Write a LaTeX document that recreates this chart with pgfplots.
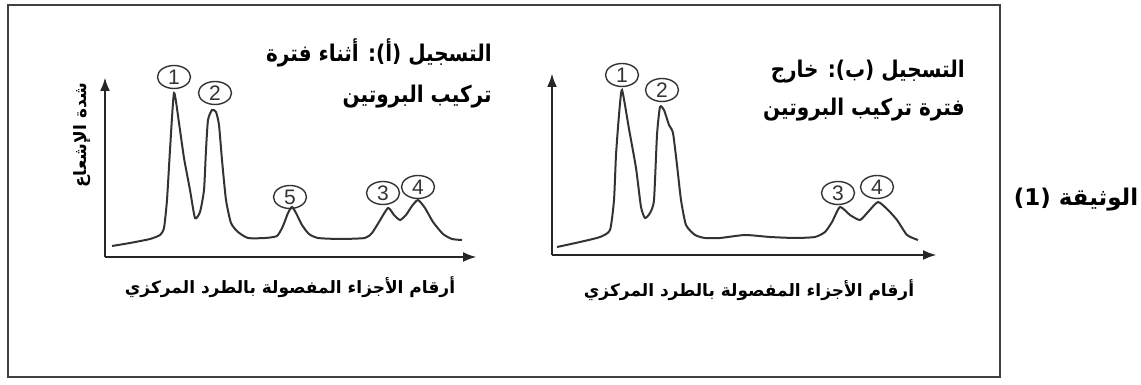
\documentclass[border=0pt]{standalone}
\usepackage{fontspec}
\usepackage{pgfplots}
\pgfplotsset{compat=1.18}
\usetikzlibrary{arrows.meta,shapes.geometric}
\TeXXeTstate=1
\setmainfont{Liberation Sans}
\newfontfamily\arabicfont[Script=Arabic]{DejaVu Sans}
\newcommand{\ar}[1]{{\arabicfont\beginR #1\endR}}

% one px of the 1141x385 reference = 0.5pt
\pgfplotsset{
  doc/.style={
    x=0.5pt, y=0.5pt, scale only axis, anchor=south west,
    axis lines=left, xtick=\empty, ytick=\empty, clip=false,
    axis line style={line width=1.4pt, black!85, -{Latex[length=7pt,width=5pt]}},
  },
  curve/.style={line width=1pt, black!80, smooth, tension=0.35},
}
\tikzset{
  num/.style={draw, ellipse, line width=0.7pt, black!80, minimum width=16.5pt,
    minimum height=11.5pt, inner sep=0pt, font=\fontsize{10.5}{10.5}\selectfont},
  ttl/.style={anchor=east, inner sep=0pt, xscale=0.87,
    font=\fontsize{11.5}{11.5}\selectfont\bfseries},
  xl/.style={font=\fontsize{8.5}{9}\selectfont\bfseries},
}

\begin{document}
\begin{tikzpicture}
\path (0,0) rectangle (570.5pt,192.5pt);
% recording (a)
\begin{axis}[doc, at={(52.5pt,64pt)}, xmin=105, xmax=477, ymin=128, ymax=308]
\addplot[curve] coordinates {
  (112,139) (130,142) (150,146) (160,150) (164,157) (167,185) (170,235)
  (174,292) (179,262) (184,227) (190,195) (195,167) (200,173) (204,195)
  (206,235) (208,265) (212,275) (216,273) (219,260) (222,225) (226,185)
  (231,162) (238,153) (248,147) (265,147) (277,149) (283,159) (288,172)
  (292,178) (296,172) (302,160) (309,151) (318,147) (340,146) (365,147)
  (372,152) (379,163) (388,177) (394,170) (400,165) (406,170) (412,179)
  (418,185) (425,177) (433,163) (443,151) (452,146) (462,145)
};
\node[num] at (axis cs:174,308) {1};
\node[num] at (axis cs:215,292) {2};
\node[num] at (axis cs:290,188) {5};
\node[num] at (axis cs:383,192) {3};
\node[num] at (axis cs:418,198) {4};
\node[ttl] at (axis cs:492,332) {\ar{التسجيل (أ): أثناء فترة}};
\node[ttl] at (axis cs:492,288) {\ar{تركيب البروتين}};
\node[xl] at (axis cs:290,98) {\ar{أرقام الأجزاء المفصولة بالطرد المركزي}};
\node[xl, rotate=90] at (axis cs:82,250) {\ar{شدة الإشعاع}};
\end{axis}
% recording (b)
\begin{axis}[doc, at={(276pt,65pt)}, xmin=552, xmax=937, ymin=130, ymax=312]
\addplot[curve] coordinates {
  (557,138) (580,143) (600,148) (610,155) (614,185) (616,230) (619,270)
  (622,295) (629,256) (636,217) (641,178) (645,167) (650,172)
  (654,185) (657,250) (660,278) (664,275) (669,260) (673,252) (677,220)
  (681,185) (686,160) (695,150) (705,147) (720,147) (745,150) (770,148)
  (795,147) (815,148) (825,153) (832,163) (840,178) (850,170) (860,165)
  (868,173) (878,183) (888,175) (897,165) (907,150) (918,145)
};
\node[num] at (axis cs:622,310) {1};
\node[num] at (axis cs:662,295) {2};
\node[num] at (axis cs:838,192) {3};
\node[num] at (axis cs:877,198) {4};
\node[ttl] at (axis cs:965,313) {\ar{التسجيل (ب): خارج}};
\node[ttl] at (axis cs:965,275) {\ar{فترة تركيب البروتين}};
\node[xl] at (axis cs:749,95) {\ar{أرقام الأجزاء المفصولة بالطرد المركزي}};
\end{axis}
\begin{scope}[x=0.5pt, y=0.5pt]
\draw[line width=1pt, black!75] (8,8) rectangle (1000,380);
\node[inner sep=0pt, font=\fontsize{11.5}{11.5}\selectfont\bfseries] at (1076,185) {\ar{الوثيقة (1)}};
\end{scope}
\end{tikzpicture}
\end{document}
